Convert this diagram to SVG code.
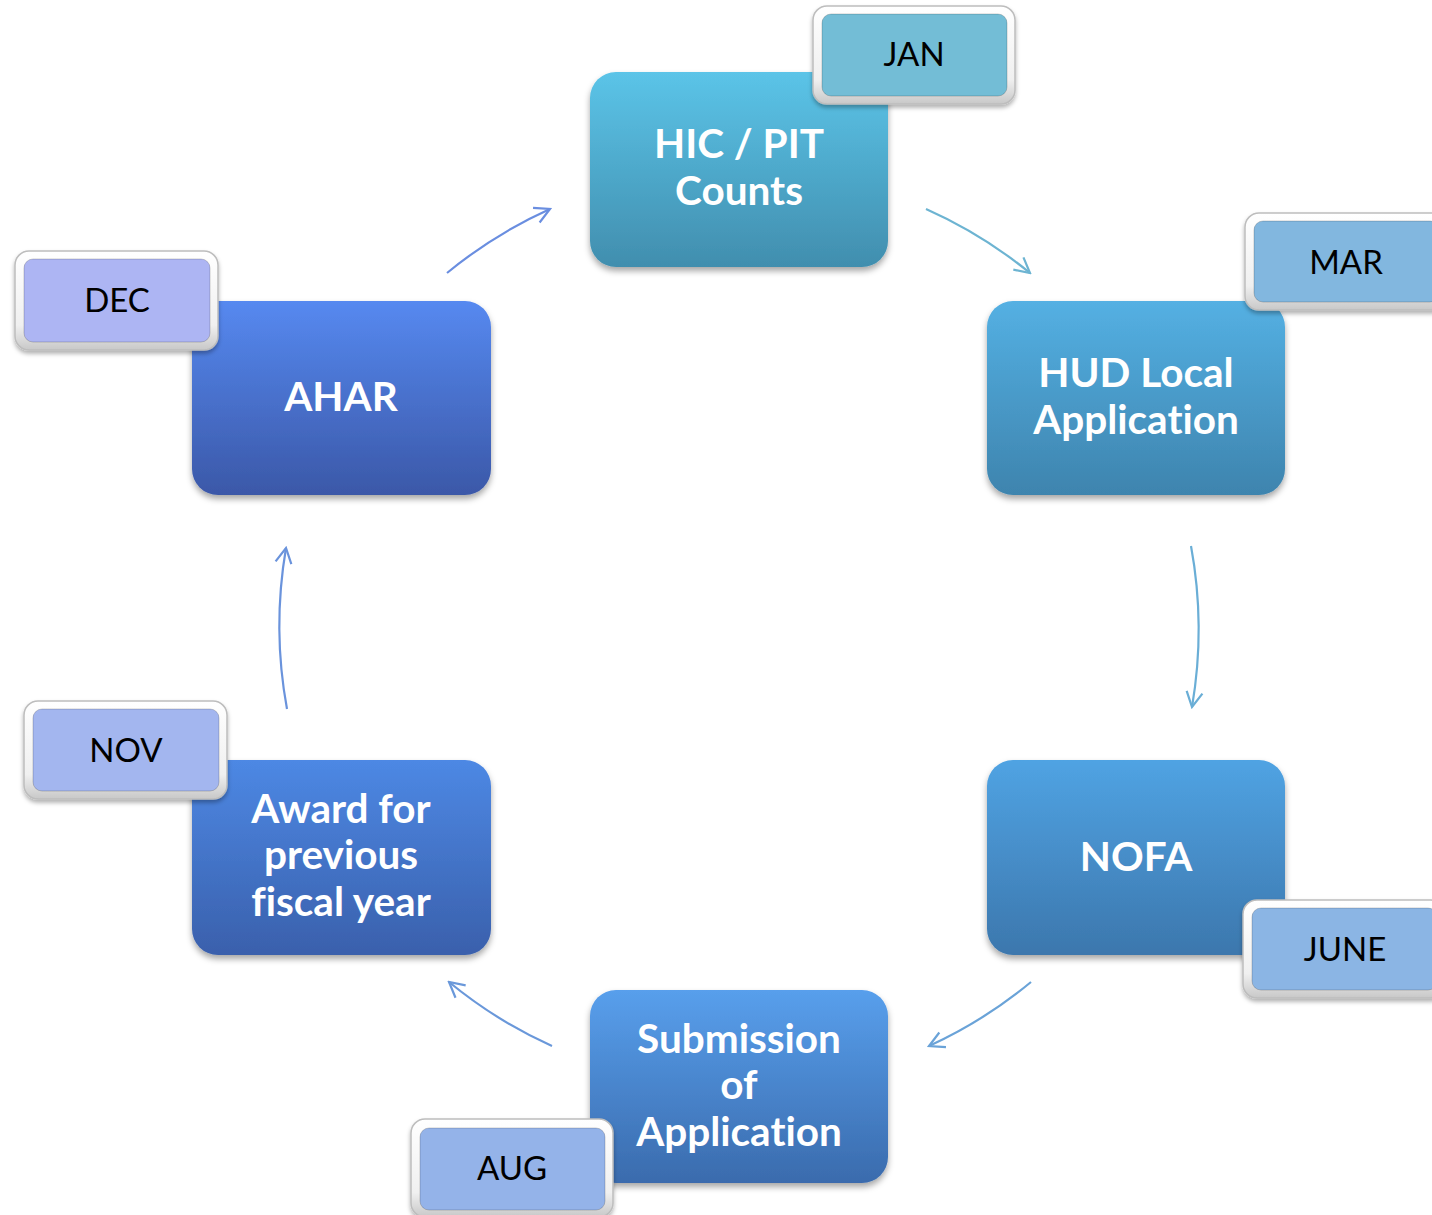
<svg xmlns="http://www.w3.org/2000/svg" width="1432" height="1215" viewBox="0 0 1432 1215">
  <defs>
    <style>
      .box { stroke: none; filter: url(#shadow); }
      .lbl { font-family: Lato, "Noto Sans", sans-serif; font-weight: bold; font-size: 40.5px; fill: #ffffff; text-anchor: middle; font-variant-ligatures: none; }
      .mon { font-family: Lato, "Liberation Sans", sans-serif; font-size: 33px; fill: #000000; text-anchor: middle; }
      .frame { fill: url(#bevel); stroke: #bdbdbd; stroke-width: 1.5; filter: url(#tagshadow); }
      .inner { stroke: rgba(0,0,0,0.18); stroke-width: 1; }
      .arc { fill: none; stroke-width: 2.2; }
    </style>
    <filter id="shadow" x="-10%" y="-10%" width="120%" height="125%">
      <feDropShadow dx="0" dy="4" stdDeviation="3" flood-color="#000" flood-opacity="0.35"/>
    </filter>
    <filter id="tagshadow" x="-10%" y="-10%" width="120%" height="130%">
      <feDropShadow dx="0" dy="3" stdDeviation="2" flood-color="#000" flood-opacity="0.3"/>
    </filter>
    <linearGradient id="bevel" x1="0" y1="0" x2="0" y2="1">
      <stop offset="0" stop-color="#ffffff"/>
      <stop offset="0.75" stop-color="#f0f0f0"/>
      <stop offset="1" stop-color="#c8c8c8"/>
    </linearGradient>
    <linearGradient id="g1" x1="0" y1="0" x2="0" y2="1"><stop offset="0" stop-color="#5bc4e8"/><stop offset="1" stop-color="#418eae"/></linearGradient>
    <linearGradient id="g2" x1="0" y1="0" x2="0" y2="1"><stop offset="0" stop-color="#54b0e3"/><stop offset="1" stop-color="#3e84ae"/></linearGradient>
    <linearGradient id="g3" x1="0" y1="0" x2="0" y2="1"><stop offset="0" stop-color="#50a3e3"/><stop offset="1" stop-color="#3c77ad"/></linearGradient>
    <linearGradient id="g4" x1="0" y1="0" x2="0" y2="1"><stop offset="0" stop-color="#589fec"/><stop offset="1" stop-color="#3a6bad"/></linearGradient>
    <linearGradient id="g5" x1="0" y1="0" x2="0" y2="1"><stop offset="0" stop-color="#4d88e4"/><stop offset="1" stop-color="#3a60ac"/></linearGradient>
    <linearGradient id="g6" x1="0" y1="0" x2="0" y2="1"><stop offset="0" stop-color="#5689f0"/><stop offset="1" stop-color="#3b58a8"/></linearGradient>
    <marker id="a1" viewBox="0 0 20 20" refX="18" refY="10" markerWidth="20" markerHeight="20" markerUnits="userSpaceOnUse" orient="auto"><path d="M3,2 L18,10 L3,18" fill="none" stroke="#6db4d2" stroke-width="2.2"/></marker>
    <marker id="a2" viewBox="0 0 20 20" refX="18" refY="10" markerWidth="20" markerHeight="20" markerUnits="userSpaceOnUse" orient="auto"><path d="M3,2 L18,10 L3,18" fill="none" stroke="#6aaed6" stroke-width="2.2"/></marker>
    <marker id="a3" viewBox="0 0 20 20" refX="18" refY="10" markerWidth="20" markerHeight="20" markerUnits="userSpaceOnUse" orient="auto"><path d="M3,2 L18,10 L3,18" fill="none" stroke="#6aa3d8" stroke-width="2.2"/></marker>
    <marker id="a4" viewBox="0 0 20 20" refX="18" refY="10" markerWidth="20" markerHeight="20" markerUnits="userSpaceOnUse" orient="auto"><path d="M3,2 L18,10 L3,18" fill="none" stroke="#6a98da" stroke-width="2.2"/></marker>
    <marker id="a5" viewBox="0 0 20 20" refX="18" refY="10" markerWidth="20" markerHeight="20" markerUnits="userSpaceOnUse" orient="auto"><path d="M3,2 L18,10 L3,18" fill="none" stroke="#6a93dc" stroke-width="2.2"/></marker>
    <marker id="a6" viewBox="0 0 20 20" refX="18" refY="10" markerWidth="20" markerHeight="20" markerUnits="userSpaceOnUse" orient="auto"><path d="M3,2 L18,10 L3,18" fill="none" stroke="#6a8ee0" stroke-width="2.2"/></marker>
  </defs>

  <rect width="1432" height="1215" fill="#ffffff"/>

  <!-- cycle connectors: arcs of one circle, clockwise -->
  <g id="connectors">
    <path class="arc" stroke="#6db4d2" marker-end="url(#a1)" d="M926,209 A459,459 0 0 1 1030,273"/>
    <path class="arc" stroke="#6aaed6" marker-end="url(#a2)" d="M1191,546 A459,459 0 0 1 1192,707"/>
    <path class="arc" stroke="#6aa3d8" marker-end="url(#a3)" d="M1031,982 A459,459 0 0 1 929,1046"/>
    <path class="arc" stroke="#6a98da" marker-end="url(#a4)" d="M552,1046 A459,459 0 0 1 449,982"/>
    <path class="arc" stroke="#6a93dc" marker-end="url(#a5)" d="M287,709 A459,459 0 0 1 286,548"/>
    <path class="arc" stroke="#6a8ee0" marker-end="url(#a6)" d="M447,273 A459,459 0 0 1 550,209"/>
  </g>

  <g id="node-hic">
    <rect class="box" x="590" y="72" width="298" height="195" rx="26" fill="url(#g1)"/>
    <text class="lbl" x="739" y="158">HIC / PIT</text>
    <text class="lbl" x="739" y="205">Counts</text>
  </g>
  <g id="tag-jan">
    <rect class="frame" x="813" y="6" width="202" height="98" rx="14"/>
    <rect class="inner" x="822" y="14" width="185" height="82" rx="9" fill="#73bdd6"/>
    <text class="mon" x="914" y="66">JAN</text>
  </g>

  <g id="node-hud">
    <rect class="box" x="987" y="301" width="298" height="194" rx="26" fill="url(#g2)"/>
    <text class="lbl" x="1136" y="387">HUD Local</text>
    <text class="lbl" x="1136" y="434">Application</text>
  </g>
  <g id="tag-mar">
    <rect class="frame" x="1245" y="213" width="202" height="97" rx="14"/>
    <rect class="inner" x="1254" y="221" width="185" height="81" rx="9" fill="#82b7df"/>
    <text class="mon" x="1346" y="274">MAR</text>
  </g>

  <g id="node-nofa">
    <rect class="box" x="987" y="760" width="298" height="195" rx="26" fill="url(#g3)"/>
    <text class="lbl" x="1136" y="871">NOFA</text>
  </g>
  <g id="tag-june">
    <rect class="frame" x="1243" y="900" width="202" height="98" rx="14"/>
    <rect class="inner" x="1252" y="908" width="185" height="82" rx="9" fill="#8bb5e4"/>
    <text class="mon" x="1345" y="961">JUNE</text>
  </g>

  <g id="node-submission">
    <rect class="box" x="590" y="990" width="298" height="193" rx="26" fill="url(#g4)"/>
    <text class="lbl" x="739" y="1053">Submission</text>
    <text class="lbl" x="739" y="1099">of</text>
    <text class="lbl" x="739" y="1146">Application</text>
  </g>
  <g id="tag-aug">
    <rect class="frame" x="411" y="1119" width="202" height="98" rx="14"/>
    <rect class="inner" x="420" y="1128" width="185" height="82" rx="9" fill="#94b3e9"/>
    <text class="mon" x="512" y="1180">AUG</text>
  </g>

  <g id="node-award">
    <rect class="box" x="192" y="760" width="299" height="195" rx="26" fill="url(#g5)"/>
    <text class="lbl" x="341" y="823">Award for</text>
    <text class="lbl" x="341" y="869">previous</text>
    <text class="lbl" x="341" y="916">fiscal year</text>
  </g>
  <g id="tag-nov">
    <rect class="frame" x="24" y="701" width="203" height="98" rx="14"/>
    <rect class="inner" x="33" y="709" width="186" height="82" rx="9" fill="#a3b6ef"/>
    <text class="mon" x="126" y="762">NOV</text>
  </g>

  <g id="node-ahar">
    <rect class="box" x="192" y="301" width="299" height="194" rx="26" fill="url(#g6)"/>
    <text class="lbl" x="341" y="411">AHAR</text>
  </g>
  <g id="tag-dec">
    <rect class="frame" x="15" y="251" width="203" height="99" rx="14"/>
    <rect class="inner" x="24" y="259" width="186" height="83" rx="9" fill="#adb5f3"/>
    <text class="mon" x="117" y="312">DEC</text>
  </g>
</svg>
